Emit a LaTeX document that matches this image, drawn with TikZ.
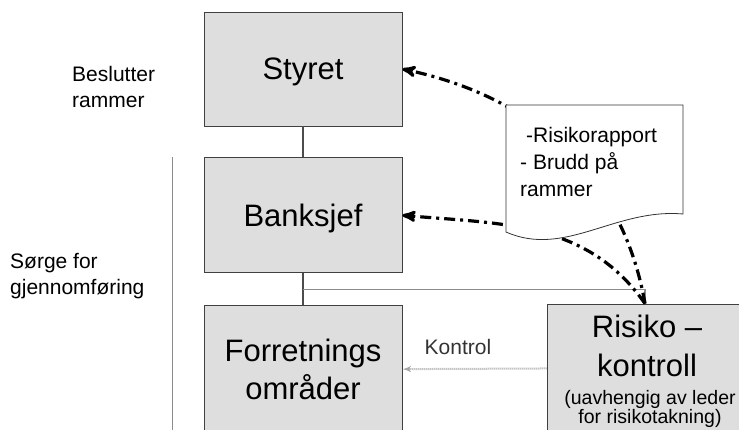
\documentclass[tikz,border=0pt]{standalone}
\usepackage{fontspec}
\setmainfont{Liberation Sans}
\usepackage{tikz}
\usetikzlibrary{arrows}
\usetikzlibrary{calc}
\usetikzlibrary{positioning}

\tikzset{
  boks/.style={draw=black!75, line width=0.8pt, fill=black!13, minimum width=198pt, inner sep=0pt, align=center, text depth=0pt, font=\fontsize{31}{38}\selectfont},
  etikett/.style={inner sep=0pt, align=left, font=\fontsize{21}{26.5}\selectfont},
  strek/.style={draw=black!70, line width=1.2pt},
  graastrek/.style={draw=black!45, line width=1.2pt},
  rapportpil/.style={-stealth', line width=3.2pt, dash pattern=on 11pt off 5pt on 3pt off 5pt},
  kontrollpil/.style={-latex', draw=black!35, line width=2pt, dash pattern=on 1pt off 1pt},
}

\begin{document}
\begin{tikzpicture}[x=1pt, y=-1pt]
        \useasboundingbox (0,0) rectangle (739,429);
        \clip (0,0) rectangle (739,429);

        \node[boks, minimum height=114pt] (styret) at (303,69) {Styret};
        \node[boks, minimum height=115pt, below=31pt of styret] (banksjef) {Banksjef};
        \node[boks, minimum height=128pt, below=32pt of banksjef] (forr) {Forretnings\\områder};
        \node[boks, minimum height=128pt, minimum width=196pt] (risiko) at (645,368) {};
        \node[inner sep=0pt, align=center, font=\fontsize{31}{39}\selectfont] (risikotekst) at (647,346) {Risiko --\\kontroll};
        \node[inner sep=0pt, align=center, font=\fontsize{19.5}{19.5}\selectfont] (uavhengig) at (650,409) {(uavhengig av leder\\for risikotakning)};

        \node[etikett, anchor=west] (beslutter) at (72,87) {Beslutter\\rammer};
        \node[etikett, anchor=west] (sorge) at (10,276) {Sørge for\\gjennomføring};
        \coordinate (linjetopp) at (172.5,157);
        \coordinate (linjebunn) at (172.5,432);
        \draw[graastrek] (linjetopp) -- (linjebunn);

        \draw[strek] (styret) -- (banksjef);
        \draw[strek] (banksjef) -- (forr);
        \coordinate (kryss) at ($(banksjef.south)!0.5!(forr.north)$);
        \draw[graastrek] (kryss) -| (risiko.north);

        \path[rapportpil] (risiko.north) edge[out=100, in=-12] (styret.east);
        \path[rapportpil] (risiko.north) edge[out=125, in=-5] (banksjef.east);
        % \path[rapportpil] (risiko.north) edge[bend right=20] (forr.east);

        \filldraw[fill=white, draw=black!80, line width=0.8pt] (506,105) -- (683,105) -- (683,214) .. controls (615,208) and (565,258) .. (506,232) -- cycle;
        \node[etikett, anchor=west, font=\fontsize{21}{27}\selectfont] (rapport) at (520,162) {\hspace{6pt}-Risikorapport\\- Brudd på\\rammer};

        \draw[kontrollpil] (risiko) -- (forr);
        \node[etikett, text=black!80] (kontrolltekst) at (458,347) {Kontrol};
    \end{tikzpicture}
\end{document}
